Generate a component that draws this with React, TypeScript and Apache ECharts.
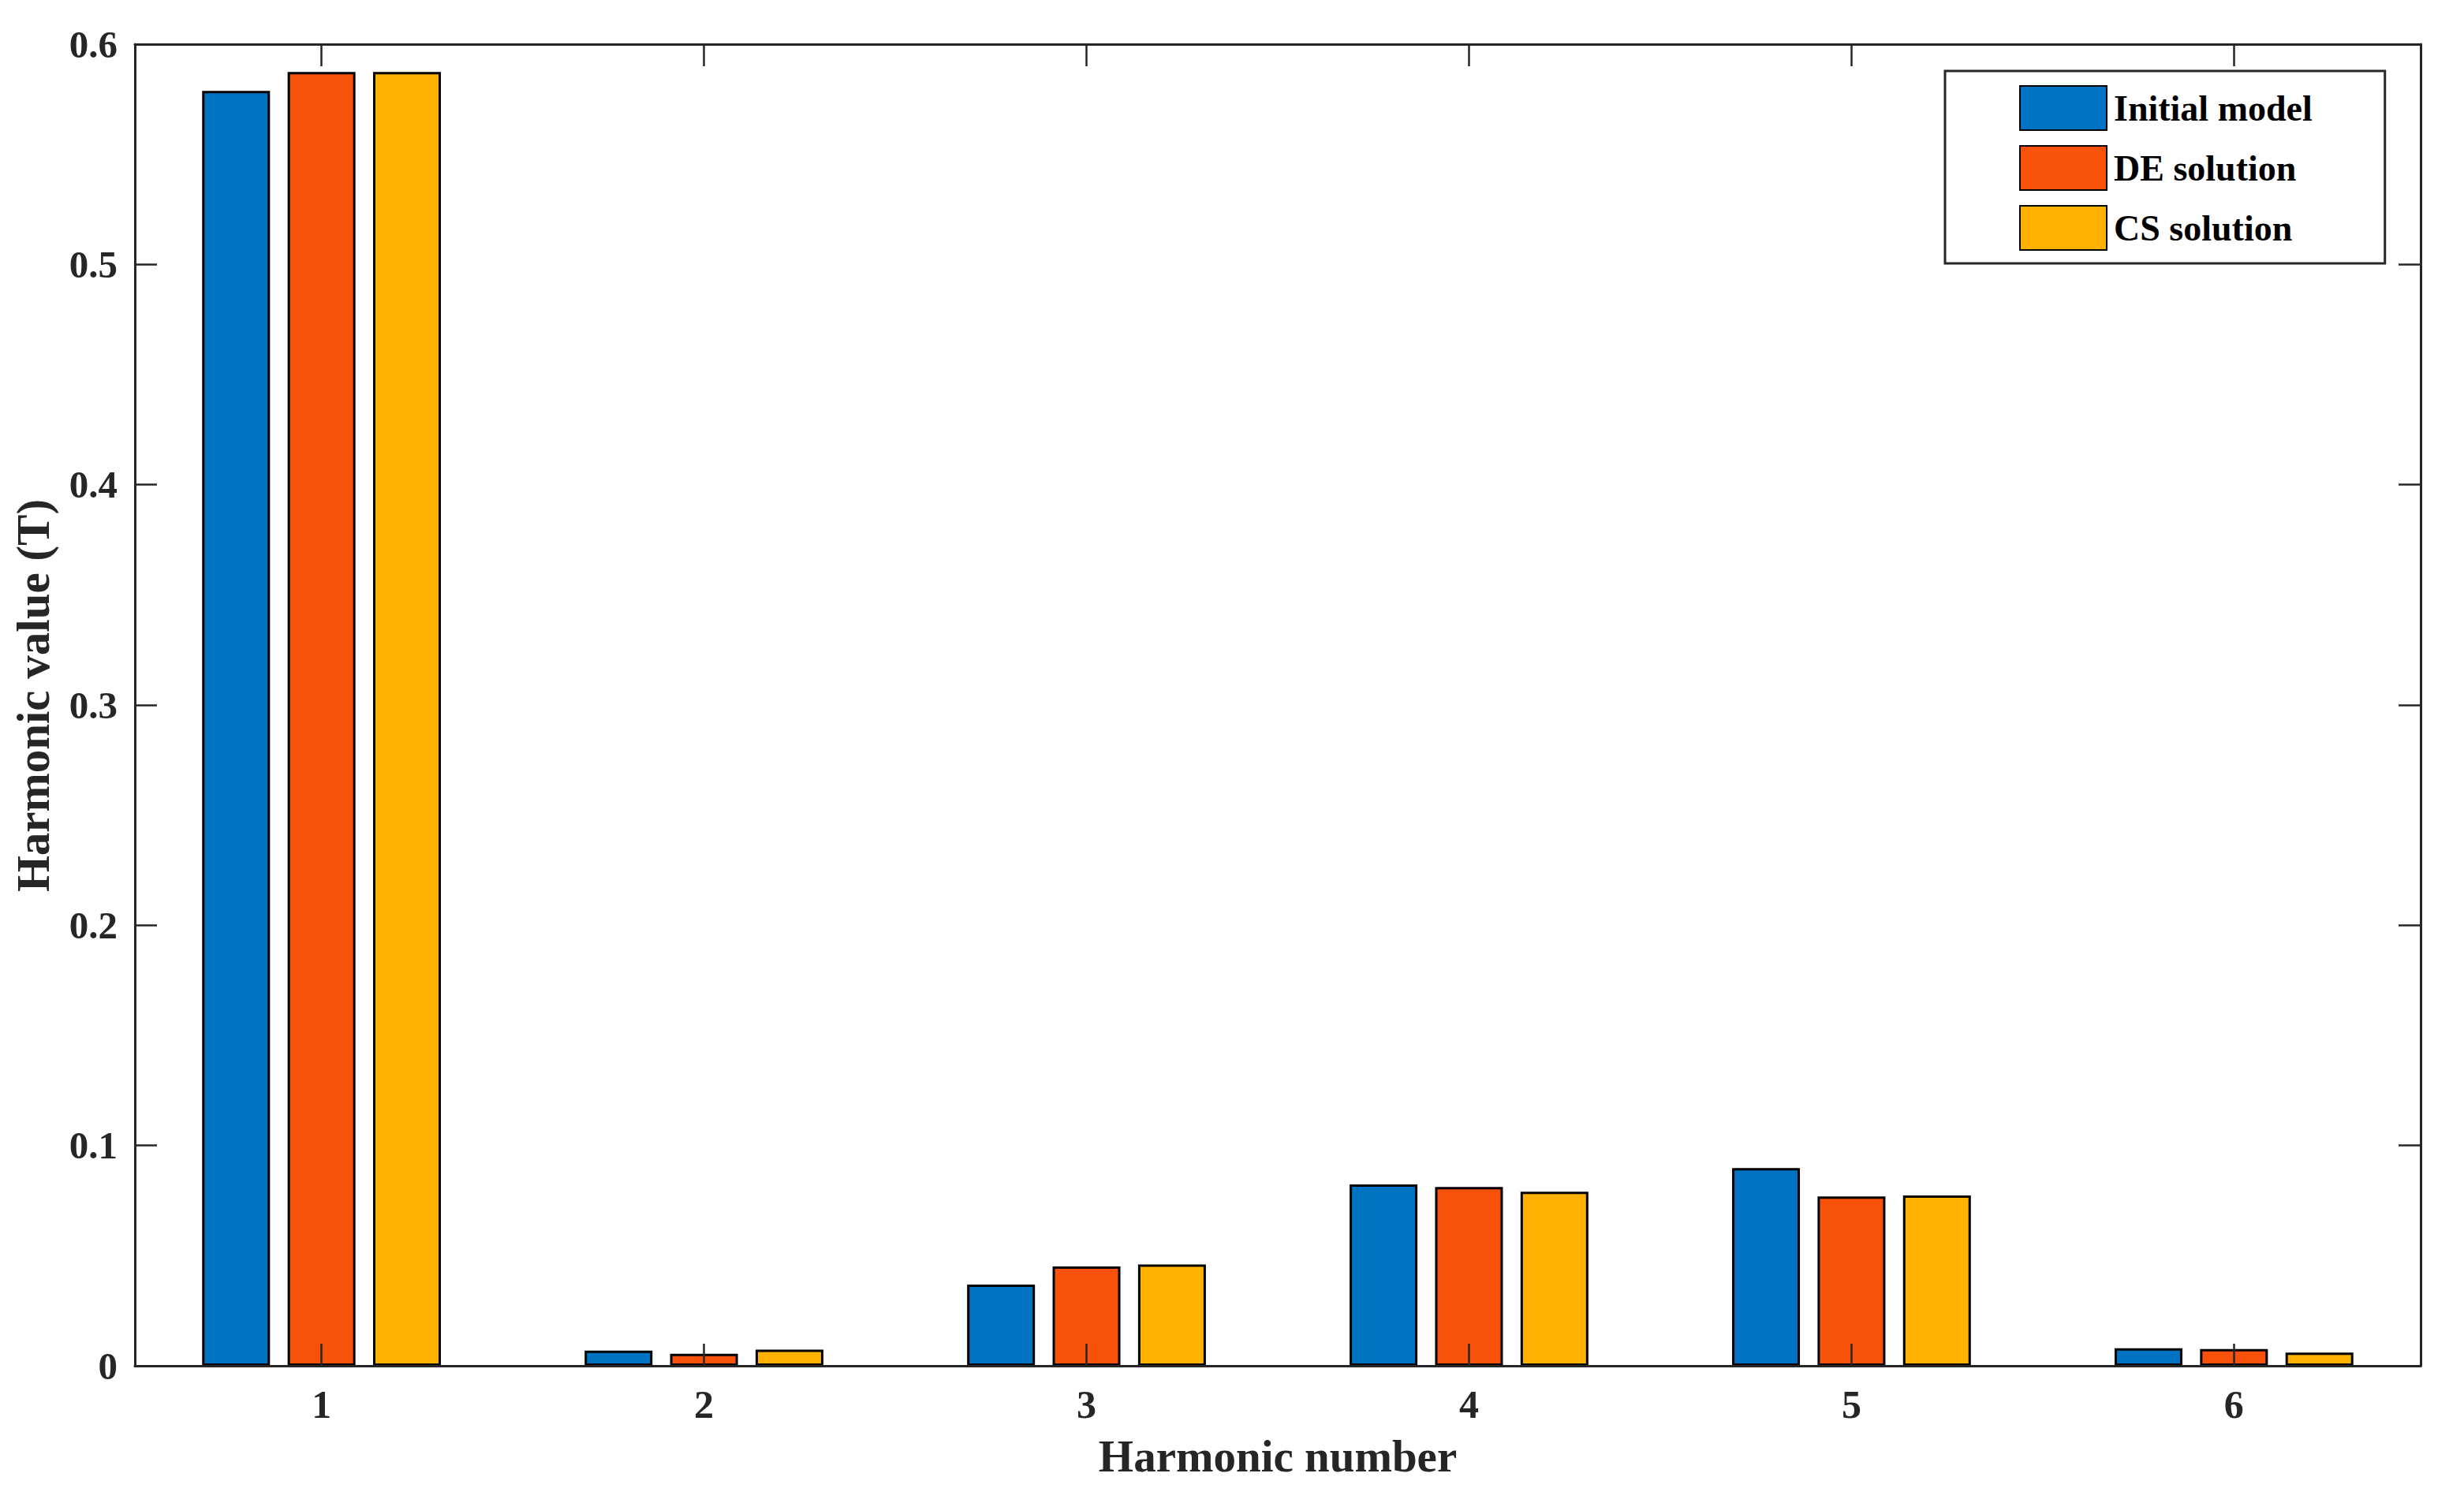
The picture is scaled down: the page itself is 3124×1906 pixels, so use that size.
import React, { useEffect, useRef } from "react";
import * as echarts from "echarts";

const harmonicNumbers = [1, 2, 3, 4, 5, 6];
const seriesNames = ["Initial model", "DE solution", "CS solution"];
const initialModel = [0.5788, 0.0069, 0.0369, 0.0823, 0.0898, 0.008];
const deSolution = [0.5874, 0.0055, 0.0451, 0.0812, 0.0769, 0.0076];
const csSolution = [0.5874, 0.0073, 0.046, 0.079, 0.0773, 0.006];
const xLimits = [0.512, 6.488];
const yTicks = [0, 0.1, 0.2, 0.3, 0.4, 0.5, 0.6];
const colors = ["#0072C2", "#F8520A", "#FEB100"];

const FONT = "'Liberation Serif', 'Times New Roman', serif";
const AXIS_COLOR = "#262626";

export default function App() {
  const ref = useRef<HTMLDivElement>(null);
  useEffect(() => {
    if (!ref.current) return;
    const chart = echarts.init(ref.current, undefined, { renderer: "svg" });
    const values = [initialModel, deSolution, csSolution];
    const axisLineStyle = { color: AXIS_COLOR, width: 3 };
    const tickStyle = { color: AXIS_COLOR, width: 2.5 };
    const intLabel = (v: number) => (Math.abs(v - Math.round(v)) < 1e-9 ? String(Math.round(v)) : "");
    chart.setOption({
      animation: false,
      backgroundColor: "#ffffff",
      grid: { left: 171, right: 55, top: 56, bottom: 174, containLabel: false },
      legend: {
        orient: "vertical",
        left: 2466,
        top: 90,
        padding: [18, 92, 16, 94],
        itemWidth: 110,
        itemHeight: 56,
        itemGap: 18,
        borderColor: AXIS_COLOR,
        borderWidth: 3,
        backgroundColor: "#ffffff",
        icon: "rect",
        textStyle: {
          fontFamily: FONT,
          fontWeight: "bold",
          fontSize: 46,
          color: "#000000",
          padding: [0, 0, 0, 4],
        },
        data: seriesNames,
      },
      xAxis: [
        {
          type: "value",
          min: xLimits[0],
          max: xLimits[1],
          splitNumber: 6,
          position: "bottom",
          z: 10,
          name: "Harmonic number",
          nameLocation: "middle",
          nameGap: 86,
          nameTextStyle: { fontFamily: FONT, fontWeight: "bold", fontSize: 57, color: AXIS_COLOR },
          axisLine: { show: true, onZero: false, lineStyle: axisLineStyle },
          axisTick: { show: true, inside: true, length: 28, lineStyle: tickStyle },
          axisLabel: {
            fontFamily: FONT,
            fontWeight: "bold",
            fontSize: 50,
            color: AXIS_COLOR,
            margin: 24,
            showMinLabel: false,
            showMaxLabel: false,
            formatter: intLabel,
          },
          splitLine: { show: false },
        },
        {
          type: "value",
          min: xLimits[0],
          max: xLimits[1],
          splitNumber: 6,
          position: "top",
          z: 10,
          axisLine: { show: true, onZero: false, lineStyle: axisLineStyle },
          axisTick: { show: true, inside: true, length: 28, lineStyle: tickStyle },
          axisLabel: { show: false },
          splitLine: { show: false },
        },
      ],
      yAxis: [
        {
          type: "value",
          min: yTicks[0],
          max: yTicks[yTicks.length - 1],
          interval: 0.1,
          position: "left",
          z: 10,
          name: "Harmonic value (T)",
          nameLocation: "middle",
          nameGap: 100,
          nameTextStyle: {
            fontFamily: FONT,
            fontWeight: "bold",
            fontSize: 59,
            color: AXIS_COLOR,
            padding: [0, 0, 0, 24],
          },
          axisLine: { show: true, onZero: false, lineStyle: axisLineStyle },
          axisTick: { show: true, inside: true, length: 28, lineStyle: tickStyle },
          axisLabel: { fontFamily: FONT, fontWeight: "bold", fontSize: 49, color: AXIS_COLOR, margin: 22 },
          splitLine: { show: false },
        },
        {
          type: "value",
          min: yTicks[0],
          max: yTicks[yTicks.length - 1],
          interval: 0.1,
          position: "right",
          z: 10,
          axisLine: { show: true, onZero: false, lineStyle: axisLineStyle },
          axisTick: { show: true, inside: true, length: 28, lineStyle: tickStyle },
          axisLabel: { show: false },
          splitLine: { show: false },
        },
      ],
      series: seriesNames.map((name, i) => ({
        name,
        type: "bar",
        xAxisIndex: 0,
        yAxisIndex: 0,
        data: harmonicNumbers.map((h, j) => [h, values[i][j]]),
        barWidth: 86,
        barGap: "26%",
        itemStyle: { color: colors[i], borderColor: "#000000", borderWidth: 3 },
      })),
    });
    return () => chart.dispose();
  }, []);
  return (
    <div
      ref={ref}
      style={{ position: "absolute", left: 0, top: 0, width: 3124, height: 1906 }}
    />
  );
}
